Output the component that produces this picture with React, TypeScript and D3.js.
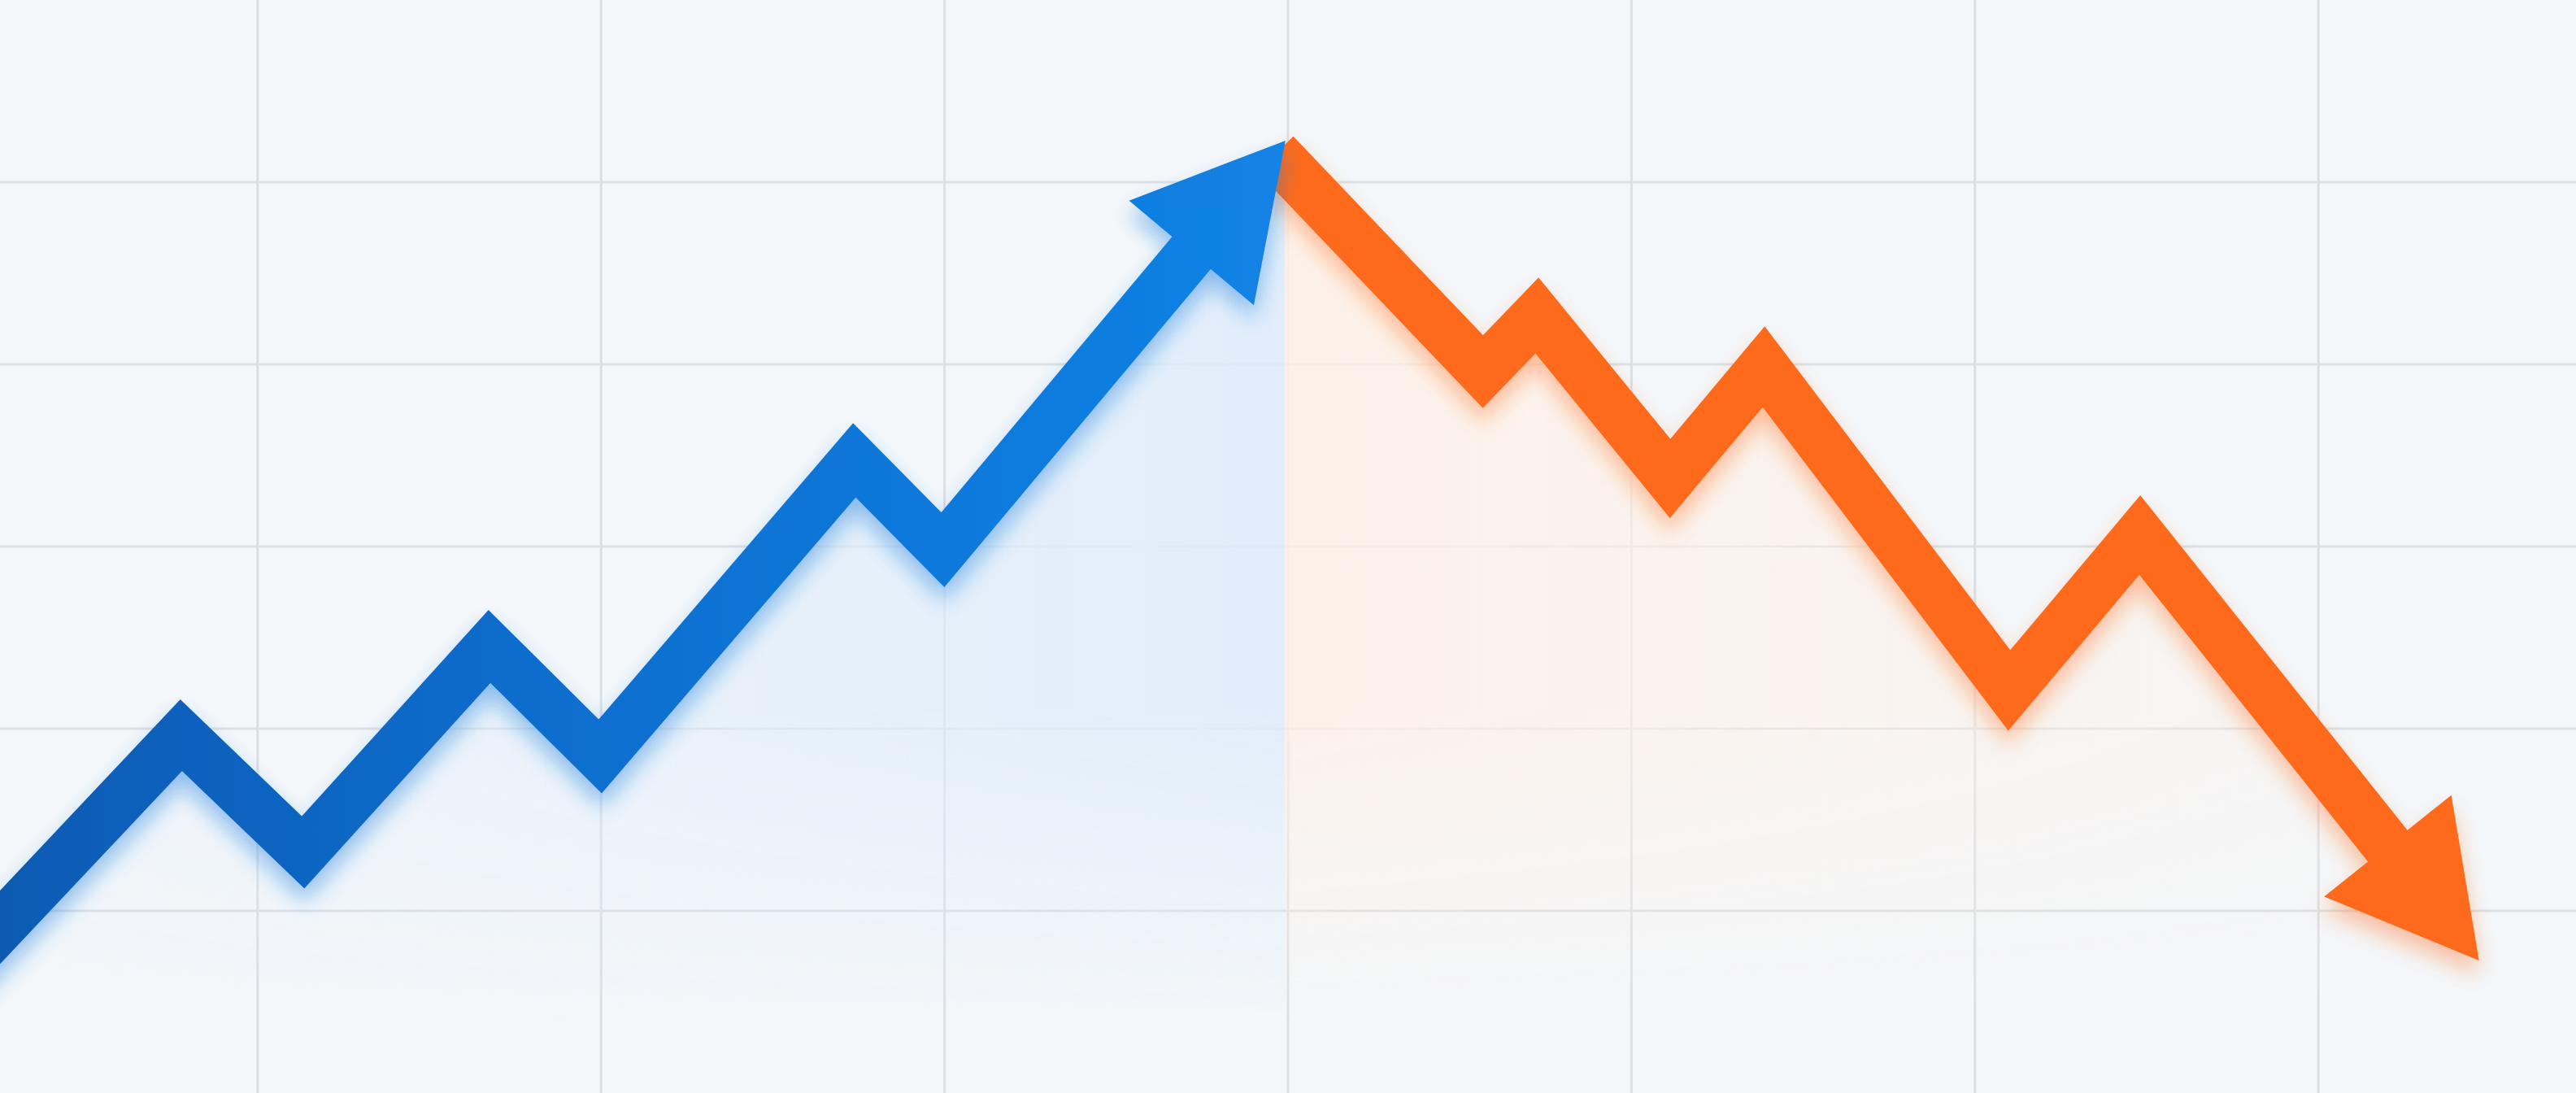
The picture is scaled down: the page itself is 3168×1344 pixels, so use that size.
import * as d3 from 'd3'

const WIDTH = 3168
const HEIGHT = 1344

// grid positions (x in steps, y in value units)
const xGrid = [3, 7, 11, 15, 19, 23, 27]
const yGrid = [10, 20, 30, 40, 50]

// rising series (blue), last point is the arrow tip
const upX = [-0.5, 2.11, 3.53, 5.7, 6.99, 9.95, 10.98, 14.97]
const upY = [6.6, 19.64, 13.21, 24.51, 18.48, 34.73, 29.82, 52.28]

// falling series (orange), last point is the arrow tip
const downX = [14.85, 17.27, 17.9, 19.45, 20.54, 23.4, 24.92, 28.87]
const downY = [51.56, 39.6, 42.68, 33.73, 39.87, 22.1, 30.63, 7.28]

const STROKE = 62
const HEAD_LEN = 180
const HEAD_HALF = 100

type Pt = [number, number]

function arrowParts(pts: Pt[]) {
  const n = pts.length
  const [tx, ty] = pts[n - 1]
  const [px, py] = pts[n - 2]
  const len = Math.hypot(tx - px, ty - py)
  const ux = (tx - px) / len
  const uy = (ty - py) / len
  const bx = tx - ux * HEAD_LEN
  const by = ty - uy * HEAD_LEN
  const shaft: Pt[] = [...pts.slice(0, n - 1), [bx + ux * 4, by + uy * 4]]
  const head: Pt[] = [
    [tx, ty],
    [bx - uy * HEAD_HALF, by + ux * HEAD_HALF],
    [bx + uy * HEAD_HALF, by - ux * HEAD_HALF],
  ]
  return { shaft, head }
}

export default function App() {
  const x = d3.scaleLinear().domain([0, 30]).range([0, WIDTH])
  const y = d3.scaleLinear().domain([0, 60]).range([HEIGHT, 0])

  const upPts: Pt[] = upX.map((v, i) => [x(v), y(upY[i])])
  const downPts: Pt[] = downX.map((v, i) => [x(v), y(downY[i])])

  const up = arrowParts(upPts)
  const down = arrowParts(downPts)

  // the two tinted areas meet at the rising arrow's tip
  const split = x(upX[upX.length - 1])

  const line = d3.line<Pt>().x((d) => d[0]).y((d) => d[1])
  const area = d3
    .area<Pt>()
    .x((d) => d[0])
    .y0(HEIGHT)
    .y1((d) => d[1])

  const headPath = (pts: Pt[]) => line(pts) + 'Z'

  return (
    <svg
      width={WIDTH}
      height={HEIGHT}
      viewBox={`0 0 ${WIDTH} ${HEIGHT}`}
      style={{ position: 'absolute', left: 0, top: 0, display: 'block' }}
    >
      <defs>
        <linearGradient id="blueStroke" gradientUnits="userSpaceOnUse" x1={0} y1={0} x2={1600} y2={0}>
          <stop offset="0" stopColor="#0a5ab3" />
          <stop offset="0.4" stopColor="#0d6dcd" />
          <stop offset="1" stopColor="#1283e6" />
        </linearGradient>
        <linearGradient id="blueFill" gradientUnits="userSpaceOnUse" x1={0} y1={0} x2={1584} y2={0}>
          <stop offset="0" stopColor="#dfecfa" stopOpacity={0.2} />
          <stop offset="1" stopColor="#dfecfa" stopOpacity={0.9} />
        </linearGradient>
        <linearGradient id="orangeFill" gradientUnits="userSpaceOnUse" x1={1584} y1={0} x2={3050} y2={0}>
          <stop offset="0" stopColor="#fff0e6" stopOpacity={0.8} />
          <stop offset="1" stopColor="#fff0e6" stopOpacity={0.2} />
        </linearGradient>
        <linearGradient id="fadeDown" gradientUnits="userSpaceOnUse" x1={0} y1={150} x2={0} y2={1260}>
          <stop offset="0" stopColor="#fff" />
          <stop offset="0.65" stopColor="#fff" />
          <stop offset="1" stopColor="#000" />
        </linearGradient>
        <mask id="fadeMask" maskUnits="userSpaceOnUse" x={0} y={0} width={WIDTH} height={HEIGHT}>
          <rect width={WIDTH} height={HEIGHT} fill="url(#fadeDown)" />
        </mask>
        <clipPath id="rightSide">
          <rect x={split} y={0} width={WIDTH - split} height={HEIGHT} />
        </clipPath>
        <filter id="blueShadow" filterUnits="userSpaceOnUse" x={-100} y={0} width={WIDTH + 200} height={HEIGHT}>
          <feDropShadow dx={0} dy={16} stdDeviation={13} floodColor="#1a7ee0" floodOpacity={0.45} />
        </filter>
        <filter id="orangeShadow" filterUnits="userSpaceOnUse" x={-100} y={0} width={WIDTH + 200} height={HEIGHT}>
          <feDropShadow dx={0} dy={16} stdDeviation={13} floodColor="#ff6a1c" floodOpacity={0.4} />
        </filter>
      </defs>

      <rect width={WIDTH} height={HEIGHT} fill="#f4f7fa" />

      <g stroke="#dce0e5" strokeWidth={3}>
        {xGrid.map((v) => (
          <line key={`x${v}`} x1={x(v)} x2={x(v)} y1={0} y2={HEIGHT} />
        ))}
        {yGrid.map((v) => (
          <line key={`y${v}`} x1={0} x2={WIDTH} y1={y(v)} y2={y(v)} />
        ))}
      </g>

      <g mask="url(#fadeMask)">
        <path d={area(upPts) ?? ''} fill="url(#blueFill)" />
        <path d={area(downPts) ?? ''} fill="url(#orangeFill)" clipPath="url(#rightSide)" />
      </g>

      <g filter="url(#orangeShadow)">
        <path
          d={line(down.shaft) ?? ''}
          fill="none"
          stroke="#fe6a1d"
          strokeWidth={STROKE}
          strokeLinejoin="miter"
          strokeMiterlimit={10}
        />
        <path d={headPath(down.head)} fill="#fe6a1d" />
      </g>

      <g filter="url(#blueShadow)">
        <path
          d={line(up.shaft) ?? ''}
          fill="none"
          stroke="url(#blueStroke)"
          strokeWidth={STROKE}
          strokeLinejoin="miter"
          strokeMiterlimit={10}
        />
        <path d={headPath(up.head)} fill="url(#blueStroke)" />
      </g>
    </svg>
  )
}
